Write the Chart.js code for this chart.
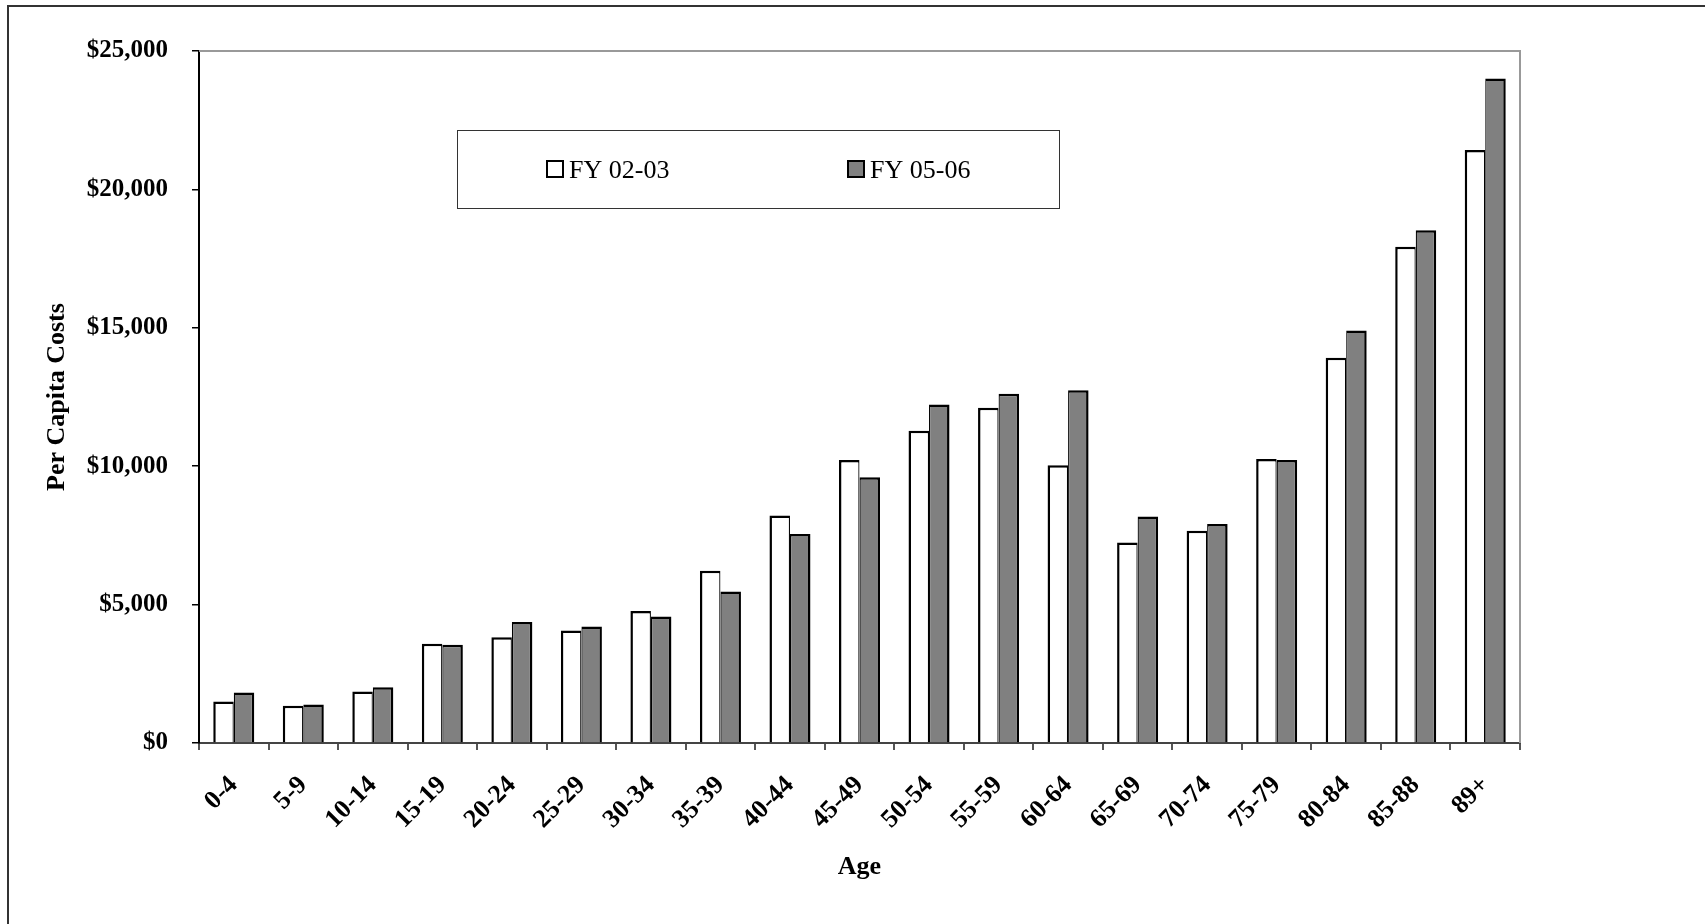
<!DOCTYPE html>
<html>
<head>
<meta charset="utf-8">
<script src="https://cdn.jsdelivr.net/npm/chart.js@4.4.1/dist/chart.umd.min.js"></script>
<style>
  html, body { margin: 0; padding: 0; background: #fff; }
  #wrap { width: 1705px; height: 924px; position: relative; }
</style>
</head>
<body>
<div id="wrap"><canvas id="costChart" width="1705" height="924"></canvas></div>
<script>
const ageGroups = ["0-4", "5-9", "10-14", "15-19", "20-24", "25-29", "30-34", "35-39", "40-44",
  "45-49", "50-54", "55-59", "60-64", "65-69", "70-74", "75-79", "80-84", "85-88", "89+"];
const fy0203 = [1500, 1350, 1860, 3590, 3820, 4060, 4770, 6220, 8220,
  10220, 11280, 12110, 10030, 7240, 7670, 10260, 13920, 17930, 21420];
const fy0506 = [1820, 1390, 2010, 3550, 4370, 4210, 4570, 5470, 7550,
  9600, 12230, 12620, 12740, 8180, 7910, 10220, 14900, 18520, 24010];
const yTicks = [0, 5000, 10000, 15000, 20000, 25000];

const serif = "'Liberation Serif', 'Times New Roman', serif";

// frame around the page, plot border on top/right, and the boxed legend
const decorations = {
  id: "decorations",
  afterDraw(chart) {
    const ctx = chart.ctx;
    const area = chart.chartArea;
    ctx.save();

    ctx.strokeStyle = "#333";
    ctx.lineWidth = 2;
    ctx.beginPath();
    ctx.moveTo(8, 924);
    ctx.lineTo(8, 6);
    ctx.lineTo(1705, 6);
    ctx.stroke();

    ctx.strokeStyle = "#999";
    ctx.lineWidth = 2;
    ctx.beginPath();
    ctx.moveTo(area.left, area.top);
    ctx.lineTo(area.right, area.top);
    ctx.lineTo(area.right, area.bottom);
    ctx.stroke();

    ctx.strokeStyle = "#333";
    ctx.lineWidth = 1;
    ctx.strokeRect(457.5, 130.5, 602, 78);

    const items = [
      { x: 547, textX: 569 },
      { x: 848, textX: 870 }
    ];
    ctx.font = "26px " + serif;
    ctx.textBaseline = "middle";
    chart.data.datasets.forEach((ds, i) => {
      const it = items[i];
      ctx.fillStyle = ds.backgroundColor;
      ctx.fillRect(it.x, 161, 16, 16);
      ctx.strokeStyle = "#000";
      ctx.lineWidth = 2;
      ctx.strokeRect(it.x, 161, 16, 16);
      ctx.fillStyle = "#000";
      ctx.fillText(ds.label, it.textX, 171);
    });
    ctx.restore();
  }
};

new Chart(document.getElementById("costChart"), {
  type: "bar",
  data: {
    labels: ageGroups,
    datasets: [
      {
        label: "FY 02-03",
        data: fy0203,
        backgroundColor: "#ffffff",
        borderColor: "#000",
        borderWidth: { top: 2.5, left: 2.5, right: 1.25, bottom: 0 },
        borderSkipped: false,
        categoryPercentage: 0.59,
        barPercentage: 1.0
      },
      {
        label: "FY 05-06",
        data: fy0506,
        backgroundColor: "#808080",
        borderColor: "#000",
        borderWidth: { top: 2.5, left: 1.25, right: 2.5, bottom: 0 },
        borderSkipped: false,
        categoryPercentage: 0.59,
        barPercentage: 1.0
      }
    ]
  },
  options: {
    responsive: false,
    animation: false,
    layout: { padding: { left: 38, top: 51, right: 185, bottom: 37 } },
    plugins: {
      legend: { display: false },
      tooltip: { enabled: false }
    },
    scales: {
      x: {
        offset: true,
        grid: { drawOnChartArea: false, drawTicks: true, tickLength: 7, color: "#555", lineWidth: 2 },
        border: { display: true, color: "#444", width: 2 },
        ticks: {
          autoSkip: false,
          minRotation: 45,
          maxRotation: 45,
          padding: 20,
          color: "#000",
          font: { family: serif, size: 26, weight: "bold" }
        },
        title: {
          display: true,
          text: "Age",
          color: "#000",
          padding: { top: 4, bottom: 4 },
          font: { family: serif, size: 26, weight: "bold" }
        },
        afterFit(scale) { scale.height = 144; }
      },
      y: {
        min: 0,
        max: 25000,
        afterBuildTicks(scale) { scale.ticks = yTicks.map(v => ({ value: v })); },
        grid: { drawOnChartArea: false, drawTicks: true, tickLength: 7, color: "#000", lineWidth: 1.5 },
        border: { display: true, color: "#000", width: 2 },
        ticks: {
          padding: 24,
          color: "#000",
          font: { family: serif, size: 25, weight: "bold" },
          callback: v => "$" + v.toLocaleString("en-US")
        },
        title: {
          display: true,
          text: "Per Capita Costs",
          color: "#000",
          padding: { top: 4, bottom: 4 },
          font: { family: serif, size: 26, weight: "bold" }
        },
        afterFit(scale) { scale.width = 161; }
      }
    }
  },
  plugins: [decorations]
});
</script>
</body>
</html>
